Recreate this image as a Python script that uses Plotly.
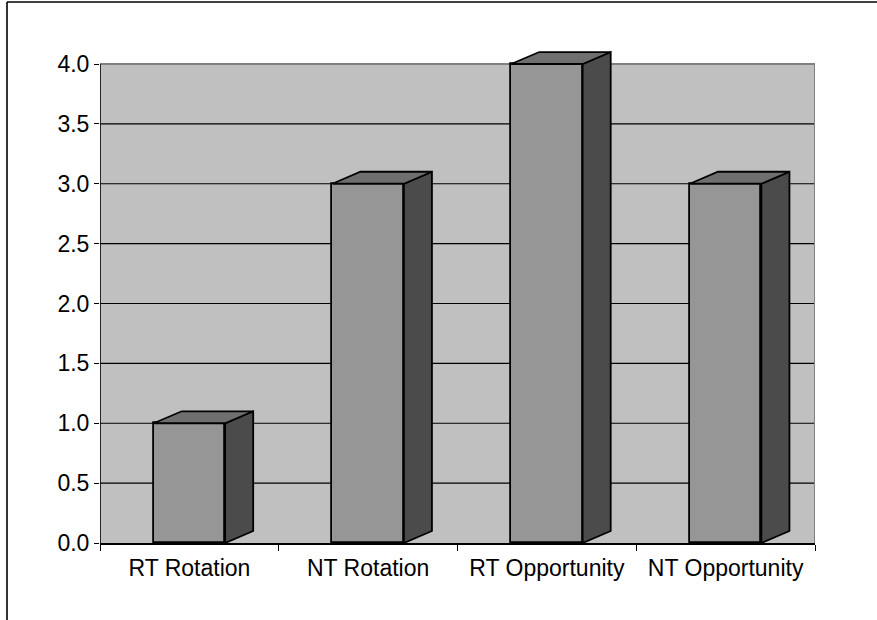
import plotly.graph_objects as go

# Survey means per condition
categories = ["RT Rotation", "NT Rotation", "RT Opportunity", "NT Opportunity"]
values = [1.0, 3.0, 4.0, 3.0]
y_ticks = [0.0, 0.5, 1.0, 1.5, 2.0, 2.5, 3.0, 3.5, 4.0]
y_ticktext = [f"{v:.1f}" for v in y_ticks]

# Styling
FRONT = "#969696"
SIDE = "#4b4b4b"
TOP = "#6f6f6f"
WALL = "#c0c0c0"
EDGE = "black"
FONT = dict(family="Liberation Sans, Arial, sans-serif", size=23, color="black")

BAR_W = 0.4      # front face width in category units
DEPTH_X = 0.157  # oblique depth, category units
DEPTH_Y = 0.10   # oblique depth, value units
PX_PER_UNIT = 119.75

W, H = 877, 620
L, R, T, B = 100, 62, 48, 77
plot_w, plot_h = W - L - R, H - T - B


def px_to_paper(x_px, y_px):
    return (x_px - L) / plot_w, (H - B - y_px) / plot_h


n = len(categories)
xs = list(range(n))

fig = go.Figure()

# Front faces
fig.add_trace(go.Bar(
    x=xs, y=values, width=BAR_W,
    marker=dict(color=FRONT, line=dict(color=EDGE, width=1.8)),
    hoverinfo="skip", showlegend=False,
))

# Side and top faces of each box
for xi, v in zip(xs, values):
    xr = xi + BAR_W / 2
    xl = xi - BAR_W / 2
    fig.add_trace(go.Scatter(
        x=[xr, xr + DEPTH_X, xr + DEPTH_X, xr, xr],
        y=[0, DEPTH_Y, v + DEPTH_Y, v, 0],
        mode="lines", fill="toself", fillcolor=SIDE,
        line=dict(color=EDGE, width=1.8), hoverinfo="skip", showlegend=False,
    ))
    fig.add_trace(go.Scatter(
        x=[xl, xl + DEPTH_X, xr + DEPTH_X, xr, xl],
        y=[v, v + DEPTH_Y, v + DEPTH_Y, v, v],
        mode="lines", fill="toself", fillcolor=TOP,
        line=dict(color=EDGE, width=1.8), hoverinfo="skip", showlegend=False,
    ))

shapes = []
x_lo, x_hi = -0.5, n - 0.5
y_max = max(y_ticks)

# Back wall
shapes.append(dict(type="rect", xref="x", yref="y", x0=x_lo, x1=x_hi, y0=0, y1=y_max,
                   fillcolor=WALL, line=dict(width=0), layer="below"))
# Gridlines
for v in y_ticks[1:-1]:
    shapes.append(dict(type="line", xref="x", yref="y", x0=x_lo, x1=x_hi, y0=v, y1=v,
                       line=dict(color="black", width=1.2), layer="below"))
# Wall top and right border
shapes.append(dict(type="line", xref="x", yref="y", x0=x_lo, x1=x_hi, y0=y_max, y1=y_max,
                   line=dict(color="#808080", width=2), layer="below"))
shapes.append(dict(type="line", xref="x", yref="y", x0=x_hi, x1=x_hi, y0=0, y1=y_max,
                   line=dict(color="#808080", width=2), layer="below"))
# Value axis line
shapes.append(dict(type="line", xref="x", yref="y", x0=x_lo, x1=x_lo, y0=0, y1=y_max,
                   line=dict(color="black", width=1.6), layer="above"))

# Outer chart frame (left and top edges)
fx0, fy0 = px_to_paper(7, 2)
fx1, fy1 = px_to_paper(880, 625)
shapes.append(dict(type="line", xref="paper", yref="paper", x0=fx0, x1=fx0, y0=fy1, y1=fy0,
                   line=dict(color="black", width=1.6)))
shapes.append(dict(type="line", xref="paper", yref="paper", x0=fx0, x1=fx1, y0=fy0, y1=fy0,
                   line=dict(color="black", width=1.6)))

fig.update_layout(
    width=W, height=H,
    margin=dict(l=L, r=R, t=T, b=B, pad=0),
    paper_bgcolor="white", plot_bgcolor="white",
    shapes=shapes, font=FONT, showlegend=False,
    bargap=0,
)
fig.update_xaxes(
    range=[x_lo, x_hi], tickmode="array", tickvals=xs, ticktext=categories,
    ticks="", showgrid=False, zeroline=False,
    showline=True, linecolor="black", linewidth=1.6,
    tickfont=FONT, fixedrange=True, ticklabelstandoff=4,
    minor=dict(tickmode="array", tickvals=[i - 0.5 for i in range(n + 1)],
               ticks="outside", ticklen=6, tickcolor="black", tickwidth=1.2, showgrid=False),
)
fig.update_yaxes(
    range=[0, plot_h / PX_PER_UNIT], tickmode="array", tickvals=y_ticks, ticktext=y_ticktext,
    ticks="outside", ticklen=5, tickcolor="black", tickwidth=1.2,
    showgrid=False, zeroline=False, showline=False,
    tickfont=FONT, fixedrange=True,
)

fig.write_html("out.html")
